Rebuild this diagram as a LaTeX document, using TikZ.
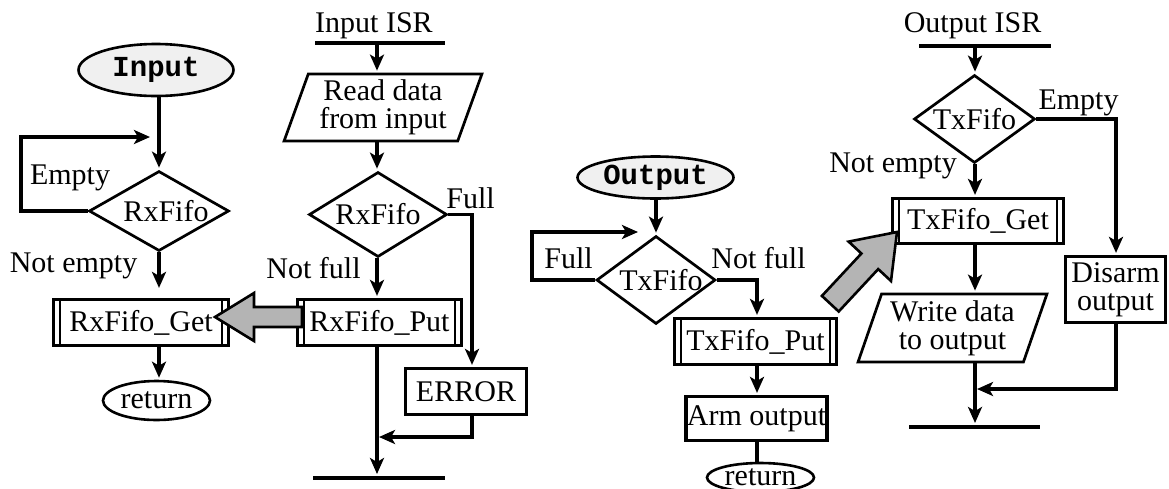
\documentclass[tikz,border=0pt]{standalone}
\usepackage{fontspec}
\setmainfont{Liberation Serif}
\setmonofont{Liberation Mono}
\usetikzlibrary{shapes.geometric, arrows.meta}
\definecolor{bigarrowgray}{RGB}{180,180,180}
\definecolor{startgray}{RGB}{240,240,240}
\newcommand{\monolabel}[1]{{\fontsize{29}{29}\selectfont\ttfamily\bfseries #1}}

\begin{document}
\begin{tikzpicture}[x=1pt, y=-1pt,
  font=\fontsize{30}{28}\selectfont,
  conn/.style={line width=3.4pt, -{Stealth[length=16pt,width=14pt,inset=4pt]}, shorten >=2pt},
  plain/.style={line width=3.4pt},
  bar/.style={line width=3.4pt},
  txt/.style={inner sep=0pt},
  proc/.style={rectangle, draw, line width=3.2pt, inner sep=0pt, align=center},
  subr/.style={proc, path picture={
      \draw[line width=2.2pt] ([xshift=6.5pt]path picture bounding box.north west) -- ([xshift=6.5pt]path picture bounding box.south west);
      \draw[line width=2.2pt] ([xshift=-6.5pt]path picture bounding box.north east) -- ([xshift=-6.5pt]path picture bounding box.south east);}},
  term/.style={ellipse, draw, line width=2.6pt, inner sep=0pt},
  startterm/.style={term, fill=startgray},
  dec/.style={diamond, draw, line width=2.7pt, inner sep=0pt},
  io/.style={trapezium, trapezium left angle=69.5, trapezium right angle=110.5,
      trapezium stretches=true, draw, line width=2.7pt, inner sep=0pt, align=center},
  bigarrow/.style={draw, line width=2.6pt, fill=bigarrowgray, line join=miter}]

\useasboundingbox (0,0) rectangle (1169,488);
\clip (0,0) rectangle (1169,488);

% ---------------- Input (main program side) ----------------
\node[startterm, minimum width=155, minimum height=52] (inE) at (156,70) {\monolabel{Input}};
\node[dec, minimum width=140, minimum height=80] (d1) at (159,211) {\makebox[0pt]{\hspace{14pt}RxFifo}};
\node[subr, minimum width=175, minimum height=46] (get) at (141,322.5) {RxFifo\_Get};
\node[term, minimum width=107, minimum height=39] (ret1) at (156.5,400.5) {return};
\node[txt] (lEmpty1) at (70,178) {Empty};
\node[txt] (lNotEmpty1) at (73.5,266) {Not empty};

\coordinate (c1) at (21,137);
\coordinate (c1e) at (152,137);
\draw[conn] (inE.south -| d1.north) -- (d1.north);
\draw[conn] (d1.west) -| (c1) -- (c1e);
\draw[conn, shorten >=10pt] (d1.south) -- (d1.south |- get.north);
\draw[conn] (d1.south |- get.south) -- (d1.south |- ret1.north);

% ---------------- Input ISR ----------------
\node[txt] (isr1) at (374,26) {Input ISR};
\coordinate (b1l) at (315,43);
\coordinate (b1r) at (445,43);
\coordinate (b1m) at (377,43);
\node[io, minimum width=198, minimum height=67] (rd) at (383,107.5) {Read data\\from input};
\node[dec, minimum width=138, minimum height=85] (d2) at (378,214.5) {\makebox[0pt]{RxFifo}};
\node[subr, minimum width=164, minimum height=46] (put) at (379.5,322.5) {RxFifo\_Put};
\node[proc, minimum width=121, minimum height=46] (err) at (466,391.5) {ERROR};
\node[txt] (lFull1) at (470.5,198) {Full};
\node[txt] (lNotFull1) at (313.5,268) {Not full};

\coordinate (c2) at (472,214.5);
\coordinate (j1) at (377,437);
\coordinate (e1) at (377,478);
\coordinate (e1l) at (313,478);
\coordinate (e1r) at (445,478);
\draw[bar] (b1l) -- (b1r);
\draw[conn] (b1m) -- (b1m |- rd.north);
\draw[conn] (b1m |- rd.south) -- (b1m |- d2.north);
\draw[conn] (d2.east) -| (c2 |- err.north);
\draw[conn] (b1m |- d2.south) -- (b1m |- put.north);
\draw[conn] (c2 |- err.south) |- (j1);
\draw[conn, shorten >=4pt] (b1m |- put.south) -- (e1);
\draw[bar] (e1l) -- (e1r);

% ---------------- Output (main program side) ----------------
\node[startterm, minimum width=156, minimum height=42] (outE) at (655.5,177.5) {\monolabel{Output}};
\node[dec, minimum width=119, minimum height=88] (d3) at (656,280) {\makebox[0pt]{\hspace{10pt}TxFifo}};
\node[subr, minimum width=162, minimum height=46] (tp) at (755.5,341.5) {TxFifo\_Put};
\node[proc, minimum width=141, minimum height=44] (arm) at (756.5,418.5) {Arm output};
\node[term, minimum width=107, minimum height=29] (ret2) at (760.5,477.5) {return};
\node[txt] (lFull2) at (568.5,258) {Full};
\node[txt] (lNotFull2) at (758.5,258) {Not full};

\coordinate (c3) at (532,232);
\coordinate (c3e) at (640,232);
\coordinate (c4) at (757,280);
\draw[conn] (outE.south -| d3.north) -- (d3.north);
\draw[conn] (d3.west) -| (c3) -- (c3e);
\draw[conn] (d3.east) -| (c4 |- tp.north);
\draw[conn] (c4 |- tp.south) -- (c4 |- arm.north);
\draw[plain] (c4 |- arm.south) -- (c4 |- ret2.north);

% ---------------- Output ISR ----------------
\node[txt] (isr2) at (972.5,26) {Output ISR};
\coordinate (b2l) at (919,46);
\coordinate (b2r) at (1051,46);
\coordinate (b2m) at (975,46);
\node[dec, minimum width=121, minimum height=88] (d4) at (974.5,119) {\makebox[0pt]{TxFifo}};
\node[subr, minimum width=171, minimum height=45] (tg) at (978,221) {TxFifo\_Get};
\node[io, minimum width=189, minimum height=68] (wr) at (952.5,328) {Write data\\to output};
\node[proc, minimum width=100, minimum height=66] (dis) at (1115.5,289.5) {Disarm\\output};
\node[txt] (lEmpty2) at (1078.5,103) {Empty};
\node[txt] (lNotEmpty2) at (893,166) {Not empty};

\coordinate (c5) at (1116,119);
\coordinate (j2) at (975,389);
\coordinate (e2) at (975,427);
\coordinate (e2l) at (909,427);
\coordinate (e2r) at (1040,427);
\draw[bar] (b2l) -- (b2r);
\draw[conn] (b2m) -- (b2m |- d4.north);
\draw[conn] (d4.east) -| (c5 |- dis.north);
\draw[conn] (b2m |- d4.south) -- (b2m |- tg.north);
\draw[conn] (b2m |- tg.south) -- (b2m |- wr.north);
\draw[conn] (c5 |- dis.south) |- (j2);
\draw[conn, shorten >=4pt] (b2m |- wr.south) -- (e2);
\draw[bar] (e2l) -- (e2r);

% ---------------- big gray hand-over arrows ----------------
\draw[bigarrow] (215,317) -- (254,293) -- (254,307) -- (302,307) -- (302,327)
  -- (254,327) -- (254,341) -- cycle;
\draw[bigarrow] (897,232) -- (891,281) -- (878.2,269.1) -- (838.7,311.5)
  -- (821.9,295.9) -- (861.4,253.5) -- (848.6,241.6) -- cycle;

\end{tikzpicture}
\end{document}
